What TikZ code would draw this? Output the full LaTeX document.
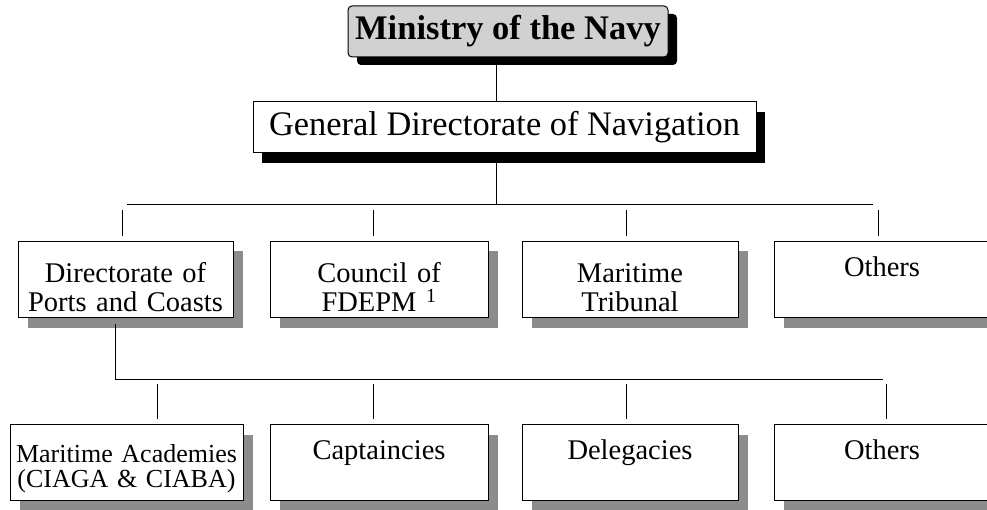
\documentclass[tikz,border=0pt]{standalone}
\usepackage{fontspec}
\setmainfont{Liberation Serif}
\usetikzlibrary{shadows}

\tikzset{
	chief/.style={draw, line width=1pt, rounded corners=4pt, fill=black!18,
		minimum width=320pt, minimum height=51pt, inner sep=0pt,
		font=\bfseries\fontsize{34.5}{36}\selectfont,
		drop shadow={shadow xshift=9pt, shadow yshift=-8pt, fill=black, opacity=1}},
	director/.style={draw, line width=1pt, fill=white,
		minimum width=503pt, minimum height=51pt, inner sep=0pt,
		font=\fontsize{34.4}{36}\selectfont,
		drop shadow={shadow xshift=9pt, shadow yshift=-10pt, fill=black, opacity=1}},
	office/.style={draw, line width=1pt, fill=white, anchor=north,
		text width=#1, align=center, inner sep=0pt,
		font=\fontsize{28.5}{29}\selectfont,
		drop shadow={shadow xshift=10pt, shadow yshift=-10pt, fill=black!45, opacity=1}},
	oneline/.style={text height=35pt, text depth=41pt},
	twoline/.style={text height=41pt, text depth=35pt},
	link/.style={line width=1pt},
	stub/.style={line width=1pt, shorten <=5pt, shorten >=5pt}
}

\begin{document}
\begin{tikzpicture}[x=1pt, y=-1pt]
	\useasboundingbox (0,0) rectangle (987,510);
	\clip (0,0) rectangle (987,510);
	
	% Top of the chart
	\node[chief] (mon) at (508,31.5) {Ministry of the Navy};
	
	\node[director] (gdn) at (504.5,127.5) {General Directorate of Navigation};
	
	% First row
	\node[office=215pt, twoline] (dpc) at (125.5,241) {Directorate of\\Ports and Coasts};
	
	\node[office=218pt, twoline] (cfd) at (379,241) {Council of\\FDEPM \textsuperscript{1}};
	
	\node[office=216pt, twoline] (mtr) at (630,241) {Maritime\\Tribunal};
	
	\node[office=216pt, oneline] (oth1) at (882,241) {Others};
	
	% Second row
	\node[office=233pt, text height=38pt, text depth=38pt,
		font=\fontsize{26}{25}\selectfont] (mac) at (126.5,424) {Maritime Academies\\(CIAGA \& CIABA)};
	
	\node[office=218pt, oneline] (cap) at (379,424) {Captaincies};
	
	\node[office=216pt, oneline] (dlg) at (630,424) {Delegacies};
	
	\node[office=216pt, oneline] (oth2) at (882,424) {Others};
	
	% Connectors
	\coordinate (spine) at (496,0);
	\coordinate (b1w) at (127,205);
	\coordinate (b1e) at (873,205);
	\coordinate (b2w) at (115,379);
	\coordinate (b2e) at (883,379);
	
	\draw[link] (mon.south -| spine) -- (gdn.north -| spine);
	\draw[link] (gdn.south -| spine) -- (spine |- b1w);
	\draw[link] (b1w) -- (b1e);
	\draw[link, shorten <=6pt] (dpc.south -| b2w) -- (b2w) -- (b2e);
	
	\foreach \x/\nm in {122/dpc, 373/cfd, 626/mtr, 878/oth1}{
		\coordinate (s\nm) at (\x,205);
		\draw[stub] (s\nm) -- (s\nm |- \nm.north);
	}
	
	\foreach \x/\nm in {157/mac, 373/cap, 626/dlg, 886/oth2}{
		\coordinate (s\nm) at (\x,379);
		\draw[stub] (s\nm) -- (s\nm |- \nm.north);
	}
	
\end{tikzpicture}
\end{document}
